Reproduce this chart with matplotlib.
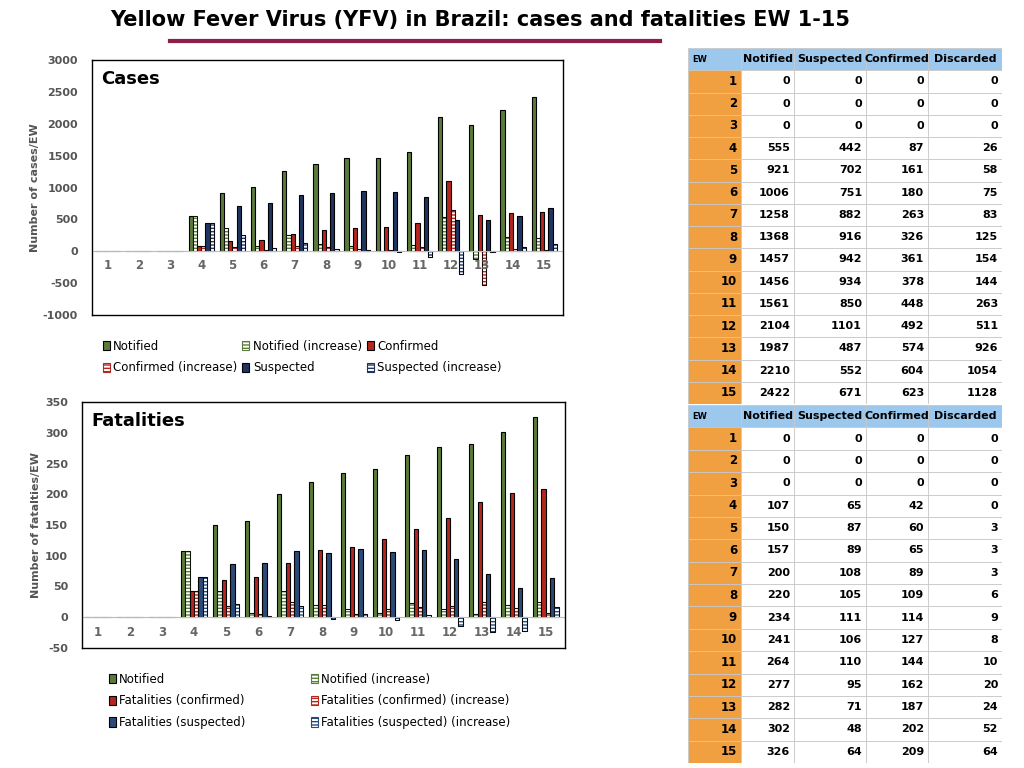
import matplotlib
matplotlib.use("Agg")
import matplotlib.pyplot as plt
import numpy as np
from matplotlib.patches import Rectangle

plt.rcParams["axes.unicode_minus"] = False

weeks = list(range(1, 16))
# Cases chart series
c_notified = [0, 0, 0, 555, 921, 1006, 1258, 1368, 1457, 1456, 1561, 2104, 1987, 2210, 2422]
c_notified_inc = [0, 0, 0, 555, 366, 85, 252, 110, 89, -1, 105, 543, -117, 223, 212]
c_confirmed = [0, 0, 0, 87, 161, 180, 263, 326, 361, 378, 448, 1101, 574, 604, 623]
c_confirmed_inc = [0, 0, 0, 87, 74, 19, 83, 63, 35, 17, 70, 653, -527, 30, 19]
c_suspected = [0, 0, 0, 442, 702, 751, 882, 916, 942, 934, 850, 492, 487, 552, 671]
c_suspected_inc = [0, 0, 0, 442, 260, 49, 131, 34, 26, -8, -84, -358, -5, 65, 119]
# Fatalities chart series
f_notified = [0, 0, 0, 107, 150, 157, 200, 220, 234, 241, 264, 277, 282, 302, 326]
f_notified_inc = [0, 0, 0, 107, 43, 7, 43, 20, 14, 7, 23, 13, 5, 20, 24]
f_confirmed = [0, 0, 0, 42, 60, 65, 89, 109, 114, 127, 144, 162, 187, 202, 209]
f_confirmed_inc = [0, 0, 0, 42, 18, 5, 24, 20, 5, 13, 17, 18, 25, 15, 7]
f_suspected = [0, 0, 0, 65, 87, 89, 108, 105, 111, 106, 110, 95, 71, 48, 64]
f_suspected_inc = [0, 0, 0, 65, 22, 2, 19, -3, 6, -5, 4, -15, -24, -23, 16]

# Tables
table_cols = ["EW", "Notified", "Suspected", "Confirmed", "Discarded"]
t1_notified = [0, 0, 0, 555, 921, 1006, 1258, 1368, 1457, 1456, 1561, 2104, 1987, 2210, 2422]
t1_suspected = [0, 0, 0, 442, 702, 751, 882, 916, 942, 934, 850, 1101, 487, 552, 671]
t1_confirmed = [0, 0, 0, 87, 161, 180, 263, 326, 361, 378, 448, 492, 574, 604, 623]
t1_discarded = [0, 0, 0, 26, 58, 75, 83, 125, 154, 144, 263, 511, 926, 1054, 1128]
t2_notified = [0, 0, 0, 107, 150, 157, 200, 220, 234, 241, 264, 277, 282, 302, 326]
t2_suspected = [0, 0, 0, 65, 87, 89, 108, 105, 111, 106, 110, 95, 71, 48, 64]
t2_confirmed = [0, 0, 0, 42, 60, 65, 89, 109, 114, 127, 144, 162, 187, 202, 209]
t2_discarded = [0, 0, 0, 0, 3, 3, 3, 6, 9, 8, 10, 20, 24, 52, 64]

GREEN, RED, BLUE = "#5a7b3a", "#b5261e", "#1f3560"
FBLUE = "#2c4a78"

W, H = 1024, 768
fig = plt.figure(figsize=(W / 100, H / 100), dpi=100)
fig.patch.set_facecolor("white")

def ax_px(x0, y0, x1, y1):
    return fig.add_axes([x0 / W, 1 - y1 / H, (x1 - x0) / W, (y1 - y0) / H])

fig.text(480 / W, 1 - 20 / H, "Yellow Fever Virus (YFV) in Brazil: cases and fatalities EW 1-15",
         ha="center", va="center", fontsize=15, fontweight="bold")
fig.add_artist(plt.Line2D([170 / W, 660 / W], [1 - 41 / H, 1 - 41 / H], color="#8b1f4a", lw=3))

def bar_chart(ax, series, labels, colors, ylim, yticks, title, ylabel, lab_y):
    x = np.array(weeks, dtype=float)
    bw = 0.135
    offs = (np.arange(6) - 2.5) * bw
    handles = []
    for i, (s, lab, c) in enumerate(zip(series, labels, colors)):
        if i % 2 == 0:
            h = ax.bar(x + offs[i], s, bw, color=c, edgecolor="black", lw=0.8, label=lab)
        else:
            h = ax.bar(x + offs[i], s, bw, color="white", edgecolor=c, hatch="-----", lw=0.8, label=lab)
            ax.bar(x + offs[i], s, bw, color="none", edgecolor="black", lw=0.6)
        handles.append(h)
    ax.axhline(0, color="#bbbbbb", lw=0.8)
    ax.set_xlim(0.5, 15.6)
    ax.set_ylim(*ylim)
    ax.set_yticks(yticks)
    ax.set_xticks([])
    ax.tick_params(axis="y", length=0, labelsize=8, labelcolor="#555555", pad=10)
    for t in ax.get_yticklabels():
        t.set_fontweight("bold")
    for w in weeks:
        ax.text(w, lab_y, str(w), ha="center", va="center", fontsize=8.5,
                fontweight="bold", color="#666666")
    for sp in ax.spines.values():
        sp.set_color("black")
        sp.set_linewidth(1)
    ax.text(0.02, 0.96, title, transform=ax.transAxes, fontsize=13, fontweight="bold",
            va="top", ha="left")
    ax.set_ylabel(ylabel, fontsize=8, fontweight="bold", color="#555555")
    return handles

ax1 = ax_px(92, 60, 563, 315)
h1 = bar_chart(ax1, [c_notified, c_notified_inc, c_confirmed, c_confirmed_inc, c_suspected, c_suspected_inc],
               ["Notified", "Notified (increase)", "Confirmed", "Confirmed (increase)", "Suspected", "Suspected (increase)"],
               [GREEN, GREEN, RED, RED, BLUE, BLUE], (-1000, 3000), range(-1000, 3001, 500),
               "Cases", "Number of cases/EW", -230)
ax1.yaxis.set_label_coords(-0.11, 0.5)
o1 = [h1[0], h1[3], h1[1], h1[4], h1[2], h1[5]]
fig.legend(handles=o1, labels=[h.get_label() for h in o1], loc="upper left",
           bbox_to_anchor=(92 / W, 1 - 329 / H), ncol=3, frameon=False, fontsize=8.5,
           handlelength=0.6, handleheight=0.9, columnspacing=0.4, labelspacing=0.75,
           handletextpad=0.3)

ax2 = ax_px(82, 402, 565, 648)
h2 = bar_chart(ax2, [f_notified, f_notified_inc, f_confirmed, f_confirmed_inc, f_suspected, f_suspected_inc],
               ["Notified", "Notified (increase)", "Fatalities (confirmed)", "Fatalities (confirmed) (increase)",
                "Fatalities (suspected)", "Fatalities (suspected) (increase)"],
               [GREEN, GREEN, RED, RED, FBLUE, FBLUE], (-50, 350), range(-50, 351, 50),
               "Fatalities", "Number of fatalties/EW", -24)
ax2.yaxis.set_label_coords(-0.085, 0.5)
o2 = [h2[0], h2[2], h2[4], h2[1], h2[3], h2[5]]
fig.legend(handles=o2, labels=[h.get_label() for h in o2], loc="upper left",
           bbox_to_anchor=(98 / W, 1 - 662 / H), ncol=2, frameon=False, fontsize=8.5,
           handlelength=0.6, handleheight=0.9, columnspacing=5.5, labelspacing=0.75,
           handletextpad=0.3)

def draw_table(y0, y1, cols):
    ax = ax_px(688, y0, 1002, y1)
    ax.set_xlim(0, 314)
    ax.set_ylim(16, 0)
    ax.axis("off")
    xs = [0, 53, 106, 178, 240, 314]
    for r in range(16):
        for c in range(5):
            if r == 0:
                fc = "#9cc8ee"
            elif c == 0:
                fc = "#f0a040"
            else:
                fc = "white"
            ax.add_patch(Rectangle((xs[c], r), xs[c + 1] - xs[c], 1, facecolor=fc,
                                   edgecolor="#c8c8c8", lw=0.6))
            if r == 0:
                txt = table_cols[c]
                ax.text(xs[c] + (4 if c == 0 else (xs[c + 1] - xs[c]) / 2), r + 0.5, txt,
                        ha="left" if c == 0 else "center", va="center",
                        fontsize=6 if c == 0 else 8, fontweight="bold")
            else:
                txt = str(weeks[r - 1]) if c == 0 else str(cols[c - 1][r - 1])
                ax.text(xs[c + 1] - 4, r + 0.5, txt, ha="right", va="center",
                        fontsize=8 if c else 8.5, fontweight="bold")

draw_table(48, 404, [t1_notified, t1_suspected, t1_confirmed, t1_discarded])
draw_table(405, 763, [t2_notified, t2_suspected, t2_confirmed, t2_discarded])

fig.savefig("out.png", dpi=100)
